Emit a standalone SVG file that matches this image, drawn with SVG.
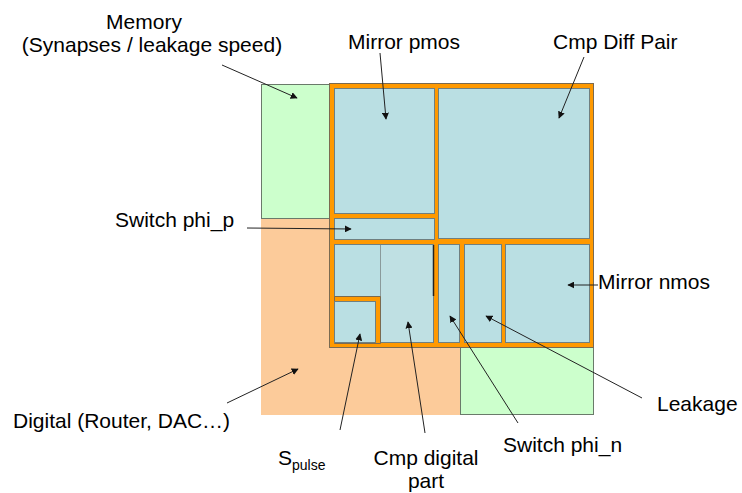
<svg xmlns="http://www.w3.org/2000/svg" width="742" height="493" viewBox="0 0 742 493">
<defs>
<style>
.t{font-family:"Liberation Sans",Arial,sans-serif;font-size:21px;fill:#000}
.sub{font-size:14px}
.blk{fill:#BADFE3;stroke:#6f7f80;stroke-width:1}
.org{fill:#FF9900;stroke:#7a6a50;stroke-width:1}
.grn{fill:#CCFFCC;stroke:#6a7a6a;stroke-width:1}
.pch{fill:#FCCB9A;stroke:none}
.ar{stroke:#222;stroke-width:1;fill:none;marker-end:url(#ah)}
</style>
<marker id="ah" viewBox="0 0 10 10" refX="9" refY="5" markerWidth="7" markerHeight="7" markerUnits="userSpaceOnUse" orient="auto">
<path d="M0,0 L10,5 L0,10 z" fill="#111"/>
</marker>
</defs>
<rect width="742" height="493" fill="#fff"/>
<g id="digital"><rect class="pch" x="261" y="218" width="199" height="197"/></g>
<g id="memory"><rect class="grn" x="261.5" y="84.5" width="69" height="134"/></g>
<g id="memory2"><rect class="grn" x="460.5" y="346.5" width="133" height="68"/></g>
<g id="core"><rect class="org" x="329.5" y="83.5" width="264" height="264"/></g>
<g id="mirror-pmos"><rect class="blk" x="334.5" y="88.5" width="100" height="125"/></g>
<g id="cmp-diff-pair"><rect class="blk" x="438.5" y="88.5" width="151" height="150"/></g>
<g id="switch-phi-p"><rect class="blk" x="334.5" y="218.5" width="100" height="21"/></g>
<g id="cmp-digital-part">
<rect class="blk" x="334.5" y="244.5" width="99" height="98"/>
<rect x="380" y="245" width="53" height="97" fill="#BFE0E3"/>
<line x1="380.5" y1="245" x2="380.5" y2="343" stroke="#8a9a9b" stroke-width="1"/>
<line x1="433.5" y1="245" x2="433.5" y2="296" stroke="#222" stroke-width="1.5"/>
</g>
<g id="spulse">
<path d="M334.5,296.5 H380.5 V343.5 H334.5 Z" fill="#FF9900" stroke="#7a6a50"/>
<rect class="blk" x="334.5" y="301.5" width="41" height="41"/>
</g>
<g id="switch-phi-n"><rect class="blk" x="438.5" y="244.5" width="21" height="98"/></g>
<g id="leakage"><rect class="blk" x="464.5" y="244.5" width="37" height="98"/></g>
<g id="mirror-nmos"><rect class="blk" x="505.5" y="244.5" width="84" height="98"/></g>
<g id="connectors">
<line class="ar" x1="222" y1="65" x2="297" y2="98"/>
<line class="ar" x1="380" y1="53" x2="386" y2="119"/>
<line class="ar" x1="584" y1="57" x2="559" y2="118"/>
<line class="ar" x1="247" y1="228" x2="351" y2="229"/>
<line class="ar" x1="598" y1="285" x2="568" y2="285"/>
<line class="ar" x1="340" y1="430" x2="360" y2="334"/>
<line class="ar" x1="425" y1="433" x2="408" y2="322"/>
<line class="ar" x1="518" y1="423" x2="450" y2="316"/>
<line class="ar" x1="642" y1="398" x2="486" y2="316"/>
<line class="ar" x1="227" y1="403" x2="298" y2="369"/>
</g>
<g id="labels">
<text class="t" x="144" y="29" text-anchor="middle">Memory</text>
<text class="t" x="152" y="52" text-anchor="middle">(Synapses / leakage speed)</text>
<text class="t" x="348" y="49">Mirror pmos</text>
<text class="t" x="553" y="49">Cmp Diff Pair</text>
<text class="t" x="115" y="227">Switch phi_p</text>
<text class="t" x="598" y="289">Mirror nmos</text>
<text class="t" x="657" y="411">Leakage</text>
<text class="t" x="13" y="428">Digital (Router, DAC…)</text>
<text class="t" x="503" y="452">Switch phi_n</text>
<text class="t" x="278" y="465">S<tspan class="sub" dy="5">pulse</tspan></text>
<text class="t" x="426" y="465" text-anchor="middle">Cmp digital</text>
<text class="t" x="426" y="488" text-anchor="middle">part</text>
</g>
</svg>
